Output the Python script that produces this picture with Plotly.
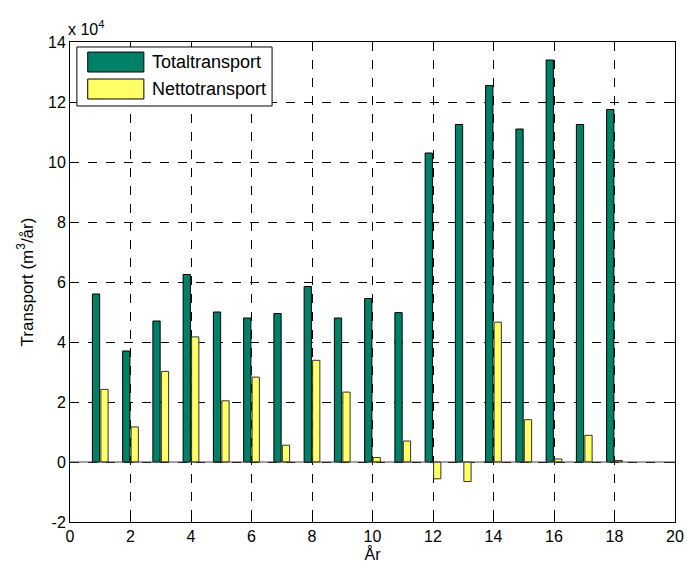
import plotly.graph_objects as go

# Years and transport volumes (m3/year)
years = list(range(1, 19))
total_transport = [56000, 37000, 47000, 62500, 50000, 48000, 49500, 58500, 48000, 54500,
                   49800, 103000, 112500, 125500, 111000, 134000, 112500, 117500]
net_transport = [24200, 11700, 30200, 41700, 20400, 28300, 5600, 33900, 23300, 1500,
                 7000, -5600, -6500, 46600, 14100, 1000, 8900, 500]

series_names = ["Totaltransport", "Nettotransport"]
series_colors = ["#008066", "#FFFF66"]
edge_colors = ["black", "#333333"]

y_ticks = [-2, 0, 2, 4, 6, 8, 10, 12, 14]
x_ticks = [0, 2, 4, 6, 8, 10, 12, 14, 16, 18, 20]
scale = 1e4

FAMILY = "Liberation Sans, Arial, sans-serif"
font = dict(family=FAMILY, size=16, color="black")

fig = go.Figure()
for vals, name, col, edge, off in zip([total_transport, net_transport], series_names,
                                      series_colors, edge_colors, [-0.26, 0.02]):
    fig.add_trace(go.Bar(
        x=years, y=vals, name=name, width=0.24, offset=off,
        marker=dict(color=col, line=dict(color=edge, width=1)),
        showlegend=False,
    ))

# baseline at zero
fig.add_shape(type="line", xref="x", yref="y", x0=0, x1=20, y0=0, y1=0,
              line=dict(color="#444444", width=1), layer="above")

# legend box with wide colour swatches
fig.add_shape(type="rect", xref="paper", yref="paper", x0=0.0114, x1=0.334,
              y0=0.8667, y1=0.9896, line=dict(color="black", width=1),
              fillcolor="white", layer="above")
swatch_rows = [(0.9375, 0.979, 0.9583), (0.8813, 0.9229, 0.9021)]
annotations = []
for (y0, y1, yc), name, col in zip(swatch_rows, series_names, series_colors):
    fig.add_shape(type="rect", xref="paper", yref="paper", x0=0.0293, x1=0.1221,
                  y0=y0, y1=y1, line=dict(color="black", width=1),
                  fillcolor=col, layer="above")
    annotations.append(dict(text=name, xref="paper", yref="paper", x=0.1319, y=yc,
                            xanchor="left", yanchor="middle", showarrow=False,
                            font=dict(family=FAMILY, size=18, color="black")))

annotations.append(dict(text="x 10<sup>4</sup>", xref="paper", yref="paper", x=0.0, y=1.0,
                        xanchor="left", yanchor="bottom", yshift=2, xshift=-4,
                        showarrow=False, font=dict(family=FAMILY, size=16)))

axis_common = dict(showgrid=True, gridcolor="black", gridwidth=1, griddash="dash",
                   showline=True, linecolor="black", linewidth=1, mirror="ticks",
                   ticks="inside", ticklen=5, tickcolor="black", zeroline=False)

fig.update_layout(
    width=694, height=570,
    margin=dict(l=70, r=10, t=42, b=48),
    paper_bgcolor="white", plot_bgcolor="white",
    font=font,
    barmode="overlay",
    showlegend=False,
    xaxis=dict(range=[0, 20], tickvals=x_ticks, ticktext=[str(v) for v in x_ticks],
               title=dict(text="År", standoff=4, font=dict(size=16)), **axis_common),
    yaxis=dict(range=[-2 * scale, 14 * scale], tickvals=[v * scale for v in y_ticks],
               ticktext=[str(v) for v in y_ticks],
               title=dict(text="Transport (m<sup>3</sup>/år)", standoff=10, font=dict(size=17)),
               **axis_common),
    annotations=annotations,
)

fig.write_html("out.html")
